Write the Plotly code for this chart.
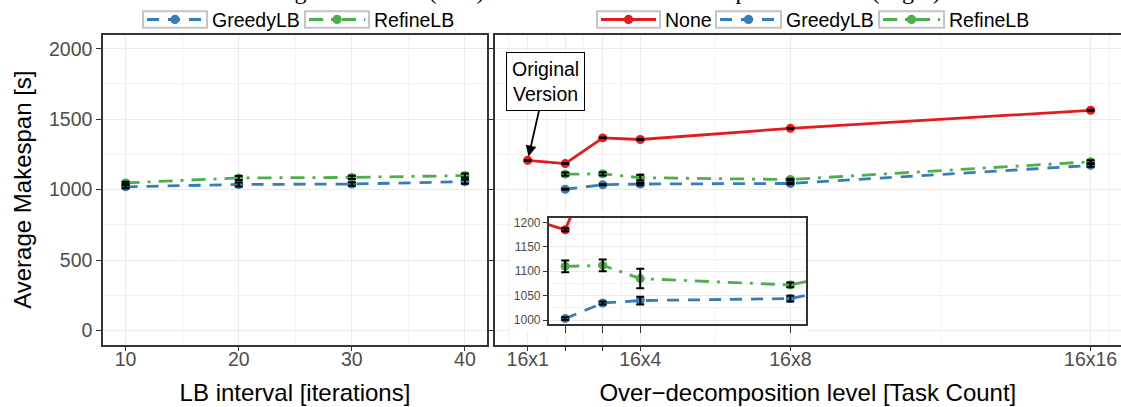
import plotly.graph_objects as go

# ---- data -----------------------------------------------------------------
lb_interval = [10, 20, 30, 40]
lb_greedy = [1020, 1037, 1040, 1057]
lb_greedy_err = [10, 14, 12, 15]
lb_refine = [1048, 1083, 1087, 1100]
lb_refine_err = [8, 14, 12, 14]

od_levels = [1, 2, 3, 4, 8, 16]
od_labels = ["16x1", "", "", "16x4", "16x8", "16x16"]
od_none = [1208, 1185, 1367, 1356, 1435, 1563]
od_none_err = [3, 3, 3, 3, 3, 3]
od_lb_levels = [2, 3, 4, 8, 16]
od_greedy = [1003, 1035, 1040, 1044, 1172]
od_greedy_err = [3, 3, 8, 6, 10]
od_refine = [1110, 1112, 1085, 1072, 1198]
od_refine_err = [12, 12, 20, 5, 10]

y_ticks = [0, 500, 1000, 1500, 2000]
y_minor = [250, 750, 1250, 1750]
inset_y_ticks = [1000, 1050, 1100, 1150, 1200]
inset_y_minor = [1025, 1075, 1125, 1175]

RED, BLUE, GREEN = "#E41A1C", "#377EB8", "#4DAF4A"
BLUE_DASH = "12px,9px"
GREEN_DASH = "14px,8px,3px,8px"
FONT = "Liberation Sans"
W, H = 1121, 407


def px_x(p):
    return p / W


def px_y(p):
    return 1 - p / H


fig = go.Figure()


def add_series(x, y, color, dash, name, xa, ya):
    fig.add_trace(go.Scatter(
        x=x, y=y, mode="lines+markers", name=name,
        line=dict(color=color, width=2.8, dash=dash),
        marker=dict(color=color, size=9),
        xaxis=xa, yaxis=ya, showlegend=False,
    ))


def add_errors(x, y, err, xa, ya):
    fig.add_trace(go.Scatter(
        x=x, y=y, mode="markers",
        marker=dict(size=1, color="rgba(0,0,0,0)"),
        error_y=dict(type="data", array=err, color="black",
                     thickness=2, width=4),
        xaxis=xa, yaxis=ya, showlegend=False, hoverinfo="skip",
    ))


# left panel
add_series(lb_interval, lb_greedy, BLUE, BLUE_DASH, "GreedyLB", "x", "y")
add_series(lb_interval, lb_refine, GREEN, GREEN_DASH, "RefineLB", "x", "y")
add_errors(lb_interval, lb_greedy, lb_greedy_err, "x", "y")
add_errors(lb_interval, lb_refine, lb_refine_err, "x", "y")

# empty subplot x3/y3: white backing behind the inset
fig.add_trace(go.Scatter(x=[], y=[], xaxis="x3", yaxis="y3", showlegend=False))

# right panel (x2/y2) + zoomed inset (x4/y4)
for xa, ya in (("x2", "y2"), ("x4", "y4")):
    add_series(od_levels, od_none, RED, "solid", "None", xa, ya)
    add_series(od_lb_levels, od_greedy, BLUE, BLUE_DASH, "GreedyLB", xa, ya)
    add_series(od_lb_levels, od_refine, GREEN, GREEN_DASH, "RefineLB", xa, ya)
    add_errors(od_levels, od_none, od_none_err, xa, ya)
    add_errors(od_lb_levels, od_greedy, od_greedy_err, xa, ya)
    add_errors(od_lb_levels, od_refine, od_refine_err, xa, ya)

grid = dict(showgrid=True, gridcolor="#EBEBEB", gridwidth=1.3, zeroline=False,
            ticks="outside", ticklen=5, tickwidth=1.3, tickcolor="#333333",
            showline=True, linecolor="#333333", linewidth=1.5,
            tickfont=dict(family=FONT, size=19.5, color="#4D4D4D"))
minor_grid = dict(showgrid=True, gridcolor="#F3F3F3", gridwidth=0.8, ticks="")
title_font = dict(family=FONT, size=24, color="black")
hidden = dict(visible=False, showgrid=False, zeroline=False)

fig.update_layout(
    width=W, height=H,
    margin=dict(l=0, r=0, t=0, b=0),
    paper_bgcolor="white", plot_bgcolor="white",
    font=dict(family=FONT, size=19.5, color="black"),
    showlegend=False,
    xaxis=dict(grid, domain=[px_x(103), px_x(487)], range=[8.0, 41.95],
               tickvals=lb_interval, mirror=True, anchor="y",
               ticklabelstandoff=-9,
               minor=dict(minor_grid, tickvals=[15, 25, 35]),
               title=dict(text="LB interval [iterations]", font=title_font, standoff=15)),
    yaxis=dict(grid, domain=[px_y(347), px_y(33)], range=[-100, 2100],
               tickvals=y_ticks, mirror=True, anchor="x",
               minor=dict(minor_grid, tickvals=y_minor),
               title=dict(text="Average Makespan [s]", font=title_font, standoff=11)),
    xaxis2=dict(grid, domain=[px_x(494.7), 1], range=[0.121, 16.81],
                tickvals=od_levels, ticktext=od_labels, mirror=True, anchor="y2",
                ticklabelstandoff=-9,
                minor=dict(minor_grid, tickvals=[0.5, 1.5, 2.5, 3.5, 6, 12, 16.5]),
                title=dict(text="Over\u2212decomposition level [Task Count]",
                           font=title_font, standoff=15)),
    yaxis2=dict(grid, domain=[px_y(347), px_y(33)], range=[-100, 2100],
                tickvals=y_ticks, showticklabels=False, anchor="x2",
                minor=dict(minor_grid, tickvals=y_minor)),
    xaxis3=dict(hidden, domain=[px_x(510), px_x(807)], anchor="y3"),
    yaxis3=dict(hidden, domain=[px_y(335), px_y(214)], anchor="x3"),
    xaxis4=dict(grid, domain=[px_x(548.7), px_x(806)], range=[1.56, 8.42],
                tickvals=[2, 3, 4, 8], showticklabels=False, mirror=True,
                anchor="y4", ticklen=7,
                minor=dict(minor_grid, tickvals=[2.5, 3.5, 6])),
    yaxis4=dict(grid, domain=[px_y(326), px_y(218.7)], range=[992, 1209],
                tickvals=inset_y_ticks, mirror=True, anchor="x4", ticklen=4,
                tickfont=dict(family=FONT, size=12, color="#4D4D4D"),
                minor=dict(minor_grid, tickvals=inset_y_minor)),
)


# legends drawn as ggplot-style keys: grey box, line, dot, label
def legend_key(x0, x1, color, dash, label, yc=17.7):
    fig.add_shape(type="rect", xref="paper", yref="paper",
                  x0=px_x(x0), x1=px_x(x1), y0=px_y(yc + 8.3), y1=px_y(yc - 8.3),
                  line=dict(color="#C4C4C4", width=2), fillcolor="white")
    fig.add_shape(type="line", xref="paper", yref="paper",
                  x0=px_x(x0 + 4), x1=px_x(x1 - 4), y0=px_y(yc), y1=px_y(yc),
                  line=dict(color=color, width=2.8, dash=dash))
    cx = (x0 + x1) / 2
    fig.add_shape(type="circle", xref="paper", yref="paper",
                  x0=px_x(cx - 4.7), x1=px_x(cx + 4.7),
                  y0=px_y(yc + 4.7), y1=px_y(yc - 4.7),
                  line=dict(color=color, width=0), fillcolor=color)
    fig.add_annotation(x=px_x(x1 + 4), y=px_y(yc + 1), xref="paper", yref="paper",
                       xanchor="left", yanchor="middle", showarrow=False,
                       text=label, borderpad=0,
                       font=dict(family=FONT, size=19.5, color="black"))


legend_key(143, 207, BLUE, BLUE_DASH, "GreedyLB")
legend_key(305, 369, GREEN, GREEN_DASH, "RefineLB")
legend_key(597, 660, RED, "solid", "None")
legend_key(716, 781, BLUE, BLUE_DASH, "GreedyLB")
legend_key(879, 944, GREEN, GREEN_DASH, "RefineLB")

fig.add_annotation(
    x=od_levels[0], y=od_none[0], xref="x2", yref="y2",
    text="Original<br>Version", showarrow=True, ax=18, ay=-79,
    arrowhead=2, arrowsize=1.2, arrowwidth=1.8, arrowcolor="black", standoff=4,
    font=dict(family=FONT, size=19.5, color="black"),
    bgcolor="white", bordercolor="black", borderwidth=1, borderpad=5,
)

# caption lines cut off at the top edge of the picture
for text, xr in (("Tuning LB interval (Left)", 485),
                 ("Over-decomposition level (Right)", 942)):
    fig.add_annotation(
        x=px_x(xr), y=px_y(3), xref="paper", yref="paper",
        xanchor="right", yanchor="bottom", showarrow=False, borderpad=0,
        text=text, font=dict(family="Liberation Serif", size=24, color="black"),
    )

fig.write_html("out.html", config={"displayModeBar": False},
               post_script="document.body.style.margin = '0';")
